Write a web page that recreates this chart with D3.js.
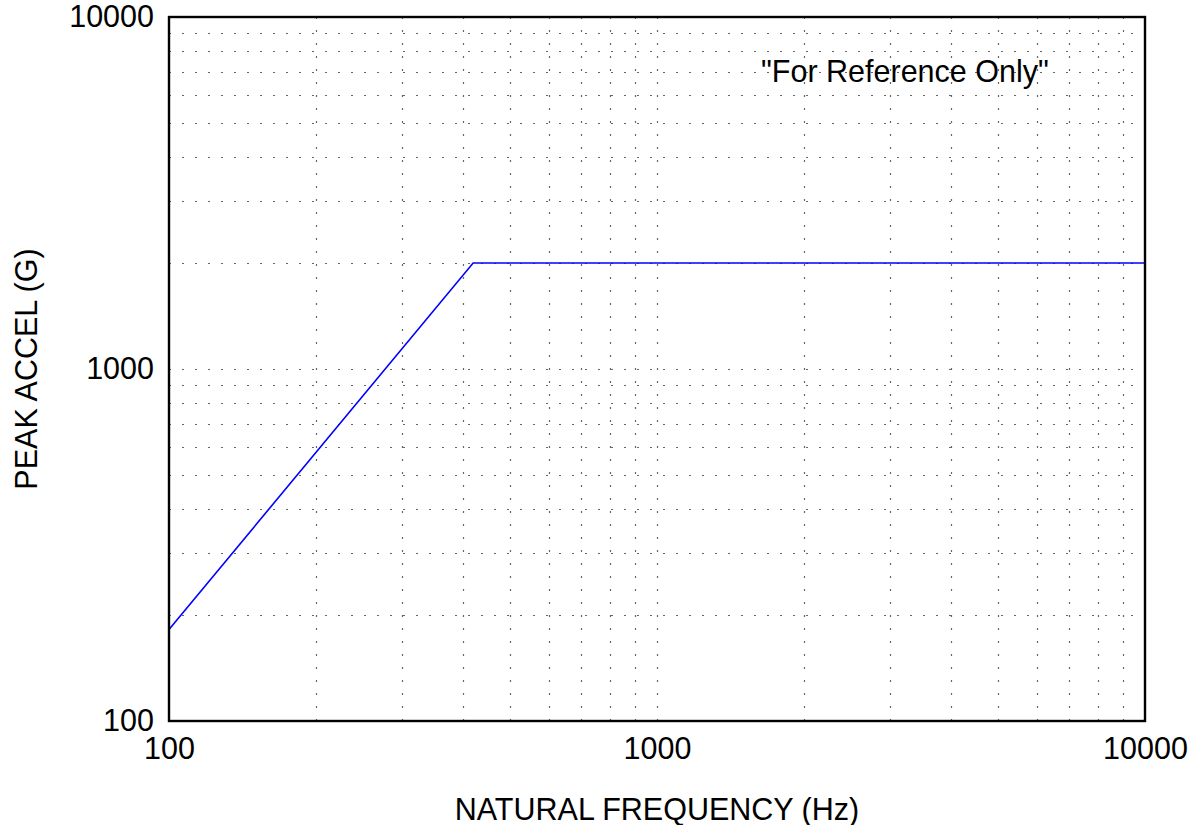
<!DOCTYPE html>
<html>
<head>
<meta charset="utf-8">
<script src="https://cdn.jsdelivr.net/npm/d3@7"></script>
<style>
  body { margin: 0; background: #fff; }
  text { font-family: "Liberation Sans", Arial, sans-serif; fill: #000; }
</style>
</head>
<body>
<div id="chart"></div>
<script>
// curve: 10 dB/octave ramp, then flat at 2000 G
var freqs = [100, 420, 10000];
var accel = [182, 2000, 2000];

var xTickValues = [100, 1000, 10000];
var yTickValues = [100, 1000, 10000];
var note = "\"For Reference Only\"";

var width = 1188, height = 825;
var margin = {top: 17, right: 43, bottom: 104, left: 169};
var fontSize = 30.5;

var svg = d3.select("#chart").append("svg")
  .attr("width", width)
  .attr("height", height);

var x = d3.scaleLog().domain([100, 10000]).range([margin.left, width - margin.right]);
var y = d3.scaleLog().domain([100, 10000]).range([height - margin.bottom, margin.top]);

// minor + major grid positions for a log axis
function gridVals(lo, hi) {
  var v = [];
  for (var d = lo; d < hi; d *= 10) {
    for (var k = 1; k <= 9; k++) v.push(d * k);
  }
  return v.filter(function(t) { return t > lo && t < hi; });
}

var grid = svg.append("g").attr("class", "grid")
  .attr("stroke", "#666")
  .attr("stroke-width", 1.2)
  .attr("stroke-dasharray", "2,11");

grid.selectAll(".gx").data(gridVals(100, 10000)).enter()
  .append("line")
  .attr("x1", function(d) { return Math.round(x(d)) + 0.5; })
  .attr("x2", function(d) { return Math.round(x(d)) + 0.5; })
  .attr("y1", y(100))
  .attr("y2", y(10000));

grid.selectAll(".gy").data(gridVals(100, 10000)).enter()
  .append("line")
  .attr("y1", function(d) { return Math.round(y(d)) + 0.5; })
  .attr("y2", function(d) { return Math.round(y(d)) + 0.5; })
  .attr("x1", x(100))
  .attr("x2", x(10000));

// the curve
var line = d3.line()
  .x(function(d) { return x(d[0]); })
  .y(function(d) { return y(d[1]); });

svg.append("path")
  .datum(d3.zip(freqs, accel))
  .attr("d", line)
  .attr("fill", "none")
  .attr("stroke", "#0000ff")
  .attr("stroke-width", 1.6);

// frame
svg.append("rect")
  .attr("x", x(100))
  .attr("y", y(10000))
  .attr("width", x(10000) - x(100))
  .attr("height", y(100) - y(10000))
  .attr("fill", "none")
  .attr("stroke", "#000")
  .attr("stroke-width", 2.4);

// axes labels (no domain line, frame drawn above)
var xAxis = d3.axisBottom(x).tickValues(xTickValues).tickSize(0).tickPadding(16)
  .tickFormat(d3.format("d"));
var gx = svg.append("g").attr("transform", "translate(0," + y(100) + ")").call(xAxis);
gx.select(".domain").remove();
gx.selectAll("text").attr("font-size", fontSize).attr("font-family", null).attr("fill", "#000");

var yAxis = d3.axisLeft(y).tickValues(yTickValues).tickSize(0).tickPadding(15)
  .tickFormat(d3.format("d"));
var gy = svg.append("g").attr("transform", "translate(" + x(100) + ",0)").call(yAxis);
gy.select(".domain").remove();
gy.selectAll("text").attr("font-size", fontSize).attr("font-family", null).attr("fill", "#000");

svg.append("text")
  .attr("x", (x(100) + x(10000)) / 2)
  .attr("y", 820)
  .attr("text-anchor", "middle")
  .attr("font-size", fontSize)
  .text("NATURAL FREQUENCY (Hz)");

svg.append("text")
  .attr("transform", "translate(37," + (y(1000)) + ") rotate(-90)")
  .attr("text-anchor", "middle")
  .attr("font-size", fontSize)
  .text("PEAK ACCEL (G)");

svg.append("text")
  .attr("x", 761)
  .attr("y", 82)
  .attr("font-size", fontSize)
  .text(note);
</script>
</body>
</html>
